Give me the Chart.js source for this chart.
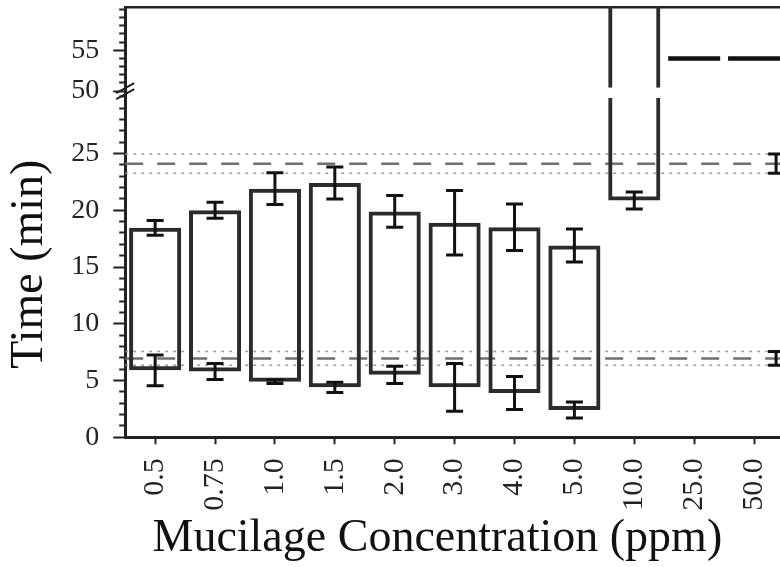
<!DOCTYPE html>
<html lang="en">
<head>
<meta charset="UTF-8">
<title>Mucilage concentration vs time</title>
<script src="https://cdn.jsdelivr.net/npm/chart.js@4.4.1/dist/chart.umd.min.js"></script>
<style>
  html, body { margin: 0; padding: 0; background: #fff; overflow: hidden; }
  #wrap { width: 788px; height: 567px; }
</style>
</head>
<body>
<div id="wrap"><canvas id="chart"></canvas></div>
<script>
const concentrations = ['0.5', '0.75', '1.0', '1.5', '2.0', '3.0', '4.0', '5.0', '10.0', '25.0', '50.0'];
// start and end of each interval (min) and the SD of each end
const startTime = [5.9, 5.8, 4.9, 4.4, 5.5, 4.4, 3.9, 2.4, 20.85, null, null];
const startSD   = [1.35, 0.7, 0.15, 0.45, 0.75, 2.1, 1.45, 0.7, 0.75, null, null];
const endTime   = [18.45, 20.0, 21.9, 22.4, 19.9, 18.9, 18.5, 16.9, 61, null, null]; // 10.0 runs past the top
const endSD     = [0.65, 0.7, 1.4, 1.4, 1.4, 2.85, 2.05, 1.45, null, null, null];
// flat mark above the break for the highest concentrations
const flatMark  = [null, null, null, null, null, null, null, null, null, 54, 54];
// control: mean and SD of the two reference times
const controlMean = [24.1, 6.95];
const controlSD   = [0.85, 0.6];
const controlAt   = 0.988; // where the control error bar sits along the plot
const yTicksLow  = [0, 5, 10, 15, 20, 25];
const yTicksHigh = [50, 55];

const serif = "'Liberation Serif', 'Times New Roman', serif";
const ink = '#222';

// bars are cut at the axis break
const lowBars = startTime.map((s, i) => s == null ? null : [s, Math.min(endTime[i], 29.9)]);
const highBars = endTime.map(e => e != null && e > 50 ? [50.4, e] : null);

function errPoints(means, sds) {
  const pts = [];
  means.forEach((m, i) => {
    if (m == null || sds[i] == null) return;
    const c = concentrations[i];
    pts.push({x: c, y: m - sds[i]}, {x: c, y: m + sds[i]}, {x: c, y: null});
  });
  return pts;
}

const errStyle = {
  type: 'line', xAxisID: 'x', yAxisID: 'y',
  borderColor: '#111', borderWidth: 3,
  pointStyle: 'line', pointRadius: 8.5, pointBorderWidth: 3, pointBorderColor: '#111',
  spanGaps: false, order: 1
};

const refSets = [];
controlMean.forEach((m, k) => {
  const sd = controlSD[k];
  [m + sd, m - sd].forEach(v => refSets.push({
    type: 'line', xAxisID: 'xt', yAxisID: 'y',
    data: [{x: 0, y: v}, {x: 1, y: v}],
    borderColor: '#9a9a9a', borderWidth: 1.5, borderDash: [3, 5],
    pointRadius: 0, order: 4
  }));
  refSets.push({
    type: 'line', xAxisID: 'xt', yAxisID: 'y',
    data: [{x: 0, y: m}, {x: 1, y: m}],
    borderColor: '#707070', borderWidth: 2.5, borderDash: [18, 14],
    pointRadius: 0, order: 4
  });
  refSets.push({
    type: 'line', xAxisID: 'xt', yAxisID: 'y',
    data: [{x: controlAt, y: m - sd}, {x: controlAt, y: m + sd}],
    borderColor: '#111', borderWidth: 3,
    pointStyle: 'line', pointRadius: 8, pointBorderWidth: 3, pointBorderColor: '#111',
    order: 1
  });
});

const axisBreak = {
  id: 'axisBreak',
  afterDraw(chart) {
    const ctx = chart.ctx;
    const x = chart.scales.y.right;
    const yb = chart.scales.y2.bottom;
    ctx.save();
    ctx.strokeStyle = ink;
    ctx.lineWidth = 2;
    [-3, 3].forEach(d => {
      ctx.beginPath();
      ctx.moveTo(x - 9, yb + d + 5);
      ctx.lineTo(x + 9, yb + d - 5);
      ctx.stroke();
    });
    ctx.restore();
  }
};

function yAxis(opts) {
  const major = opts.labels;
  const isMajor = c => major.includes(c.tick && c.tick.value);
  return {
    type: 'linear', position: 'left', stack: 'time',
    stackWeight: opts.weight, min: opts.min, max: opts.max,
    ticks: {
      stepSize: 1, autoSkip: false, includeBounds: false,
      padding: 14, color: ink, font: {family: serif, size: 28},
      callback: v => major.includes(v) ? String(v) : ''
    },
    grid: {
      drawOnChartArea: false, tickLength: 12, tickWidth: 2, tickColor: ink,
      tickBorderDash: c => isMajor(c) ? [] : [6, 6],
      tickBorderDashOffset: c => isMajor(c) ? 0 : 6
    },
    border: {color: ink, width: 3},
    title: opts.title ? {
      display: true, text: opts.title, color: '#111',
      font: {family: serif, size: 46}, padding: {top: 2, bottom: 0}
    } : {display: false},
    afterFit: s => { s.paddingTop = 0; }
  };
}

new Chart(document.getElementById('chart'), {
  type: 'bar',
  data: {
    labels: concentrations,
    datasets: [
      {
        data: lowBars, xAxisID: 'x', yAxisID: 'y', grouped: false,
        backgroundColor: 'rgba(0,0,0,0)', borderColor: '#2b2b2b', borderWidth: 4,
        borderSkipped: c => endTime[c.dataIndex] > 30 ? 'end' : false,
        barPercentage: 0.87, categoryPercentage: 1, order: 2
      },
      {
        data: highBars, xAxisID: 'x', yAxisID: 'y2', grouped: false,
        backgroundColor: 'rgba(0,0,0,0)', borderColor: '#2b2b2b', borderWidth: 4,
        borderSkipped: 'start',
        barPercentage: 0.87, categoryPercentage: 1, order: 2
      },
      Object.assign({data: errPoints(startTime, startSD)}, errStyle),
      Object.assign({data: errPoints(endTime, endSD)}, errStyle),
      {
        type: 'line', xAxisID: 'x', yAxisID: 'y2', data: flatMark,
        showLine: false, pointStyle: 'line', pointRadius: 26,
        pointBorderWidth: 4.5, pointBorderColor: '#111', order: 1
      },
      ...refSets
    ]
  },
  options: {
    responsive: true,
    maintainAspectRatio: false,
    animation: false,
    layout: {autoPadding: false, padding: {top: 7, right: 4, left: 0, bottom: 0}},
    plugins: {legend: {display: false}, tooltip: {enabled: false}},
    scales: {
      x: {
        type: 'category', position: 'bottom', offset: true,
        grid: {offset: false, drawOnChartArea: false, tickLength: 7, tickWidth: 2, tickColor: ink},
        border: {color: ink, width: 3},
        ticks: {
          autoSkip: false, minRotation: 90, maxRotation: 90, padding: 14,
          color: ink, font: {family: serif, size: 30}
        },
        title: {
          display: true, text: 'Mucilage Concentration (ppm)\u00a0\u00a0\u00a0', color: '#111',
          font: {family: serif, size: 46}, padding: {top: -13, bottom: 0}
        },
        afterFit: s => { s.paddingLeft = 0; s.paddingRight = 0; }
      },
      xt: {
        type: 'linear', position: 'top', min: 0, max: 1, offset: false,
        ticks: {display: false},
        grid: {offset: false, drawOnChartArea: false, drawTicks: false},
        border: {color: ink, width: 2.5}
      },
      y: yAxis({min: 0, max: 30.5, weight: 346, labels: yTicksLow, title: 'Time (min)'}),
      y2: yAxis({min: 50, max: 60.3, weight: 84, labels: yTicksHigh})
    }
  },
  plugins: [axisBreak]
});
</script>
</body>
</html>
